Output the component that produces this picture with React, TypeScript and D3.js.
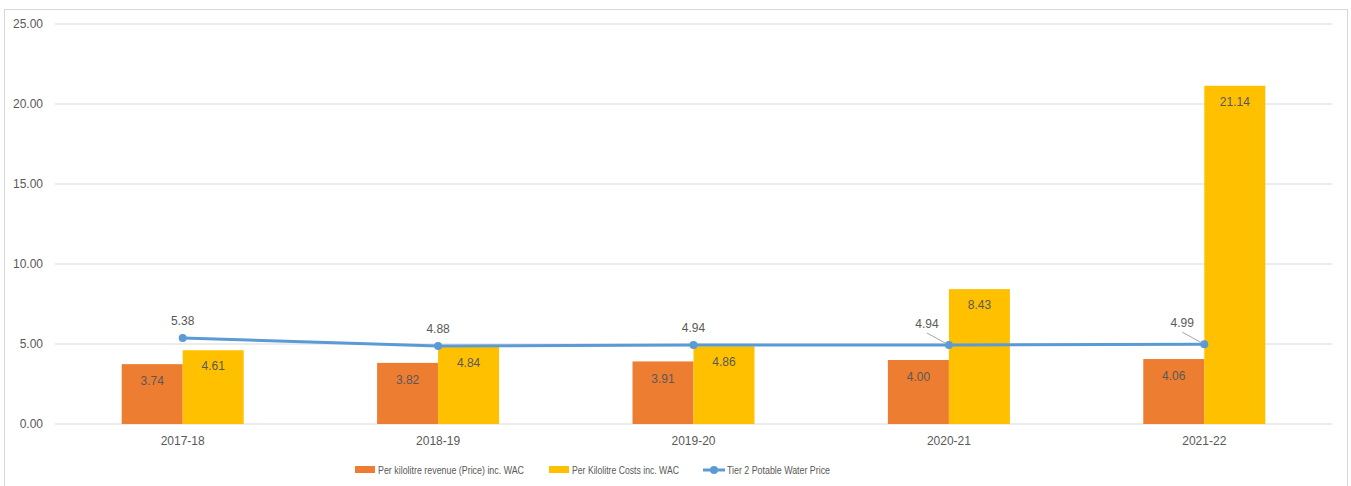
import React from "react";
import * as d3 from "d3";

const categories = ["2017-18", "2018-19", "2019-20", "2020-21", "2021-22"];
const revenue = [3.74, 3.82, 3.91, 4.0, 4.06];
const costs = [4.61, 4.84, 4.86, 8.43, 21.14];
const tier2 = [5.38, 4.88, 4.94, 4.94, 4.99];
const yTicks = [0, 5, 10, 15, 20, 25];
const seriesNames = [
  "Per kilolitre revenue (Price) inc. WAC",
  "Per Kilolitre Costs inc. WAC",
  "Tier 2 Potable Water Price",
];

const W = 1351;
const H = 486;
const M = { left: 55, right: 1332, top: 24, bottom: 424 };
const ORANGE = "#ED7D31";
const YELLOW = "#FFC000";
const BLUE = "#5B9BD5";
const TEXT = "#595959";
const FONT = "'Liberation Sans', Arial, sans-serif";
const FS = 12;

export default function App() {
  const x = d3.scaleBand<string>().domain(categories).range([M.left, M.right]);
  const y = d3.scaleLinear().domain([0, 25]).range([M.bottom, M.top]);
  const barW = 61;
  const cx = (c: string) => (x(c) as number) + x.bandwidth() / 2;
  const line = d3
    .line<number>()
    .x((_, i) => cx(categories[i]))
    .y((d) => y(d));

  return (
    <svg width={W} height={H} style={{ position: "absolute", left: 0, top: 0, fontFamily: FONT }}>
      <rect x={0} y={0} width={W} height={H} fill="#fff" />
      <rect x={4.5} y={9.5} width={1343} height={490} fill="none" stroke="#D9D9D9" />
      {yTicks.map((t) => (
        <g key={t}>
          <line x1={M.left} x2={M.right} y1={y(t)} y2={y(t)} stroke="#D9D9D9" strokeWidth={1.2} />
          <text x={43} y={y(t)} dy="0.35em" textAnchor="end" fontSize={FS} fill={TEXT}>
            {t.toFixed(2)}
          </text>
        </g>
      ))}
      {categories.map((c, i) => (
        <g key={c}>
          <rect x={cx(c) - barW} y={y(revenue[i])} width={barW} height={y(0) - y(revenue[i])} fill={ORANGE} />
          <rect x={cx(c)} y={y(costs[i])} width={barW} height={y(0) - y(costs[i])} fill={YELLOW} />
          <text x={cx(c) - barW / 2} y={y(revenue[i]) + 17} dy="0.35em" textAnchor="middle" fontSize={FS} fill={TEXT}>
            {revenue[i].toFixed(2)}
          </text>
          <text x={cx(c) + barW / 2} y={y(costs[i]) + 16} dy="0.35em" textAnchor="middle" fontSize={FS} fill={TEXT}>
            {costs[i].toFixed(2)}
          </text>
          <text x={cx(c)} y={441} dy="0.35em" textAnchor="middle" fontSize={FS} fill={TEXT}>
            {c}
          </text>
        </g>
      ))}
      <path d={line(tier2) || ""} fill="none" stroke={BLUE} strokeWidth={3} />
      {categories.map((c, i) => {
        const px = cx(c);
        const py = y(tier2[i]);
        const offset = i >= 3;
        return (
          <g key={"t" + c}>
            <circle cx={px} cy={py} r={4} fill={BLUE} />
            {offset ? (
              <>
                <line x1={px - 22} y1={py - 12} x2={px - 2} y2={py - 1} stroke="#A6A6A6" strokeWidth={1} />
                <text x={px - 22} y={py - 21} dy="0.35em" textAnchor="middle" fontSize={FS} fill={TEXT}>
                  {tier2[i].toFixed(2)}
                </text>
              </>
            ) : (
              <text x={px} y={py - 17} dy="0.35em" textAnchor="middle" fontSize={FS} fill={TEXT}>
                {tier2[i].toFixed(2)}
              </text>
            )}
          </g>
        );
      })}
      <g fontSize={11.5} fill={TEXT}>
        <rect x={355} y={466} width={20} height={7} fill={ORANGE} />
        <text x={378} y={470} dy="0.35em" textLength={146} lengthAdjust="spacingAndGlyphs">{seriesNames[0]}</text>
        <rect x={549} y={466} width={20} height={7} fill={YELLOW} />
        <text x={572} y={470} dy="0.35em" textLength={107} lengthAdjust="spacingAndGlyphs">{seriesNames[1]}</text>
        <line x1={703} x2={725} y1={470} y2={470} stroke={BLUE} strokeWidth={3} />
        <circle cx={714} cy={470} r={4} fill={BLUE} />
        <text x={727} y={470} dy="0.35em" textLength={103} lengthAdjust="spacingAndGlyphs">{seriesNames[2]}</text>
      </g>
    </svg>
  );
}
